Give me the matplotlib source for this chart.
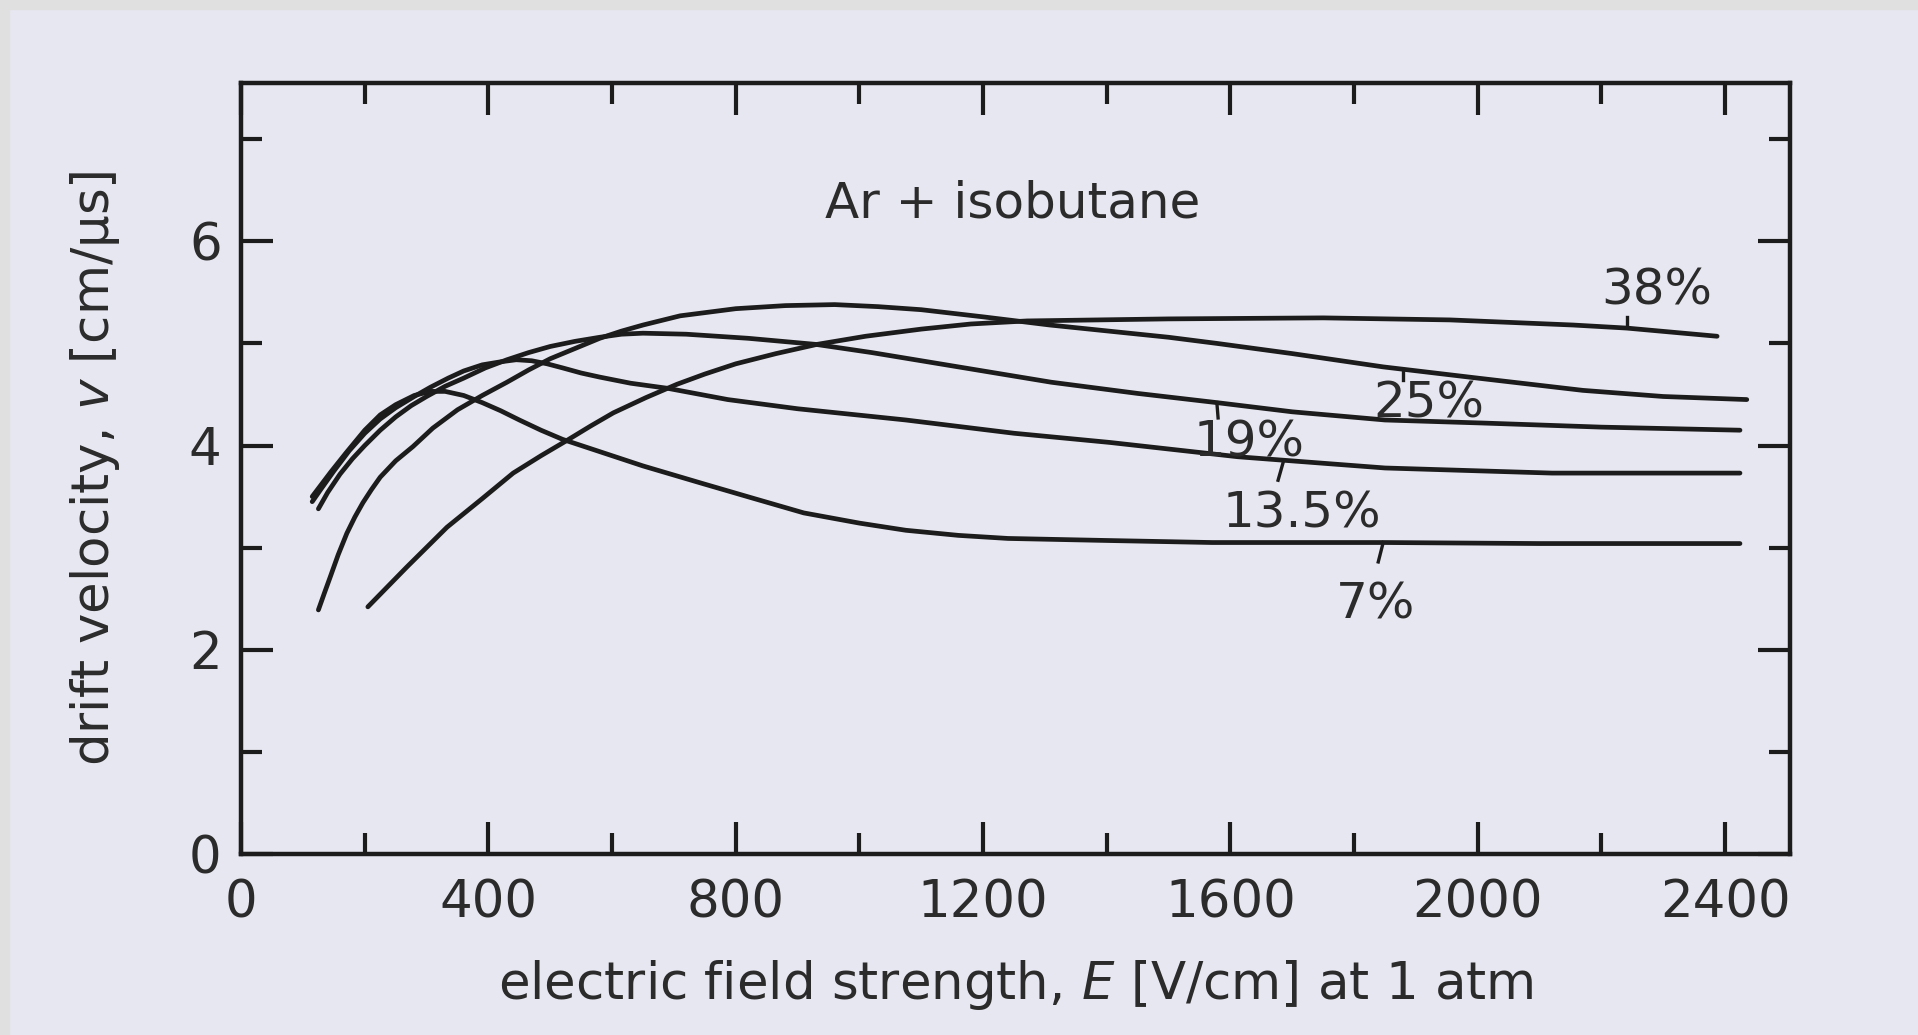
import matplotlib.pyplot as plt
from matplotlib.patches import Rectangle
from matplotlib.ticker import MultipleLocator

# drift velocity curves, E in V/cm, v in cm/us
e_7 = [115, 130, 145, 170, 200, 225, 250, 280, 306, 330, 360, 390, 420, 450, 485, 520,
       580, 650, 745, 830, 910, 1000, 1075, 1160, 1240, 1400, 1570, 1850, 2100, 2424]
v_7 = [3.50, 3.62, 3.74, 3.93, 4.15, 4.30, 4.40, 4.49, 4.53, 4.53, 4.49, 4.42, 4.34, 4.25,
       4.15, 4.06, 3.94, 3.80, 3.63, 3.48, 3.34, 3.24, 3.17, 3.12, 3.09, 3.07, 3.05, 3.05,
       3.04, 3.04]

e_135 = [115, 130, 150, 175, 200, 225, 250, 280, 306, 335, 360, 390, 420, 445, 470, 495,
         520, 550, 580, 630, 690, 787, 900, 1075, 1250, 1405, 1612, 1850, 2120, 2424]
v_135 = [3.45, 3.58, 3.75, 3.95, 4.12, 4.26, 4.37, 4.48, 4.57, 4.66, 4.73, 4.79, 4.82,
         4.84, 4.83, 4.80, 4.76, 4.71, 4.67, 4.61, 4.56, 4.45, 4.36, 4.25, 4.12, 4.03,
         3.89, 3.78, 3.73, 3.73]

e_19 = [125, 140, 160, 180, 200, 225, 250, 275, 300, 330, 360, 395, 430, 465, 500, 540,
        580, 615, 650, 720, 820, 930, 1020, 1120, 1210, 1310, 1450, 1578, 1700, 1850,
        2009, 2200, 2424]
v_19 = [3.38, 3.54, 3.72, 3.87, 4.00, 4.15, 4.28, 4.39, 4.48, 4.58, 4.66, 4.76, 4.84,
        4.91, 4.97, 5.02, 5.06, 5.09, 5.10, 5.09, 5.05, 4.99, 4.91, 4.81, 4.72, 4.62,
        4.51, 4.42, 4.33, 4.25, 4.22, 4.18, 4.15]

e_25 = [125, 135, 144, 157, 171, 184, 197, 211, 225, 250, 278, 310, 350, 390, 430, 465,
        500, 540, 580, 615, 650, 710, 800, 880, 960, 1030, 1100, 1200, 1308, 1500, 1578,
        1700, 1847, 2000, 2170, 2300, 2435]
v_25 = [2.39, 2.56, 2.71, 2.93, 3.14, 3.30, 3.44, 3.57, 3.69, 3.85, 3.99, 4.17, 4.35,
        4.49, 4.62, 4.74, 4.85, 4.95, 5.05, 5.12, 5.18, 5.27, 5.34, 5.37, 5.38, 5.36,
        5.33, 5.26, 5.18, 5.06, 5.00, 4.90, 4.77, 4.66, 4.54, 4.48, 4.45]

e_38 = [205, 268, 333, 390, 440, 485, 527, 565, 602, 655, 705, 750, 800, 865, 931, 1010,
        1100, 1180, 1271, 1500, 1750, 1955, 2154, 2241, 2387]
v_38 = [2.42, 2.81, 3.20, 3.48, 3.73, 3.90, 4.05, 4.19, 4.32, 4.47, 4.60, 4.70, 4.80,
        4.90, 4.99, 5.07, 5.14, 5.19, 5.22, 5.24, 5.25, 5.23, 5.18, 5.15, 5.07]

curves = [(e_7, v_7), (e_135, v_135), (e_19, v_19), (e_25, v_25), (e_38, v_38)]

# curve labels: text, x, baseline y, leader line (x0, y0, x1, y1)
labels = ['38%', '25%', '19%', '13.5%', '7%']
label_x = [2290, 1921, 1630, 1716, 1835]
label_y = [5.38, 4.27, 3.89, 3.20, 2.31]
leaders = [(2241, 5.26, 2241, 5.16),
           (1879, 4.72, 1879, 4.64),
           (1578, 4.42, 1580, 4.27),
           (1685, 3.83, 1677, 3.66),
           (1847, 3.05, 1839, 2.86)]

paper = '#e7e7f1'
ink = '#1c1c1c'
txt = '#2b2b2b'

fig = plt.figure(figsize=(19.18, 10.35), dpi=100, facecolor=paper)
# grey scanner margin on top and left
fig.patches.append(Rectangle((0, 1 - 9 / 1035), 1, 9 / 1035, transform=fig.transFigure,
                             color='#e0e0e0', zorder=0))
fig.patches.append(Rectangle((0, 0), 9 / 1918, 1, transform=fig.transFigure,
                             color='#e0e0e0', zorder=0))

ax = fig.add_axes([0.1257, 0.1749, 0.8076, 0.7449])
ax.set_facecolor(paper)

for e, v in curves:
    ax.plot(e, v, color=ink, linewidth=3.4, solid_capstyle='round', solid_joinstyle='round')

for s, x, y, (x0, y0, x1, y1) in zip(labels, label_x, label_y, leaders):
    ax.text(x, y, s, ha='center', va='baseline', fontsize=36, color=txt)
    ax.plot([x0, x1], [y0, y1], color=ink, linewidth=2.4)

ax.text(1248, 6.23, 'Ar + isobutane', ha='center', va='baseline', fontsize=36, color=txt)

ax.set_xlim(0, 2505)
ax.set_ylim(0, 7.55)
ax.xaxis.set_major_locator(MultipleLocator(400))
ax.xaxis.set_minor_locator(MultipleLocator(200))
ax.yaxis.set_major_locator(MultipleLocator(2))
ax.yaxis.set_minor_locator(MultipleLocator(1))

ax.tick_params(which='both', direction='in', top=True, right=True, color=ink, width=3)
ax.tick_params(which='major', length=23, labelsize=37, labelcolor=txt, pad=14)
ax.tick_params(which='minor', length=15)
ax.tick_params(axis='x', which='major', pad=18)
for sp in ax.spines.values():
    sp.set_linewidth(3.2)
    sp.set_color(ink)

ax.set_xlabel('electric field strength, $E$ [V/cm] at 1 atm', fontsize=37, color=txt)
ax.set_ylabel('drift velocity, $v$ [cm/μs]', fontsize=37, color=txt)
ax.xaxis.set_label_coords(0.5, -0.135)
ax.yaxis.set_label_coords(-0.077, 0.5)

fig.savefig('out.png', dpi=100, facecolor=paper)
